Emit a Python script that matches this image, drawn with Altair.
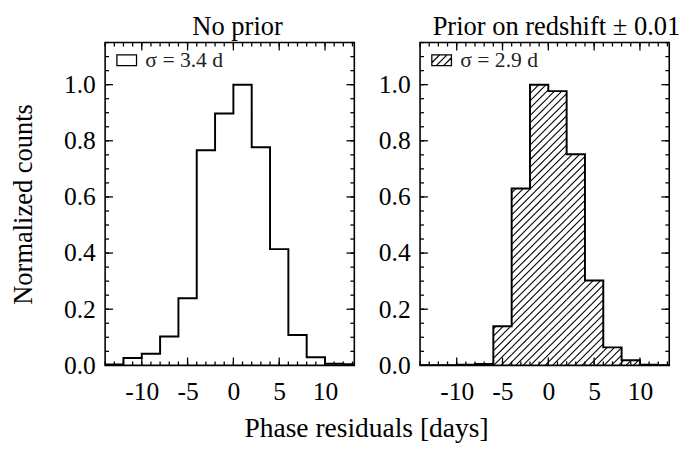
import altair as alt
import pandas as pd
import math

# ---- data ----
bin_starts = [-14, -12, -10, -8, -6, -4, -2, 0, 2, 4, 6, 8, 10, 12]
no_prior = [0.003, 0.026, 0.041, 0.103, 0.239, 0.766, 0.897, 1.0, 0.777, 0.414, 0.108, 0.029, 0.006, 0.004]
with_prior = [0.0, 0.0, 0.002, 0.005, 0.139, 0.630, 1.0, 0.977, 0.752, 0.302, 0.064, 0.018, 0.002, 0.0]
x_major = [-10, -5, 0, 5, 10]
x_minor = list(range(-14, 14))
y_major = [0.0, 0.2, 0.4, 0.6, 0.8, 1.0]
y_minor = [round(0.05 * k, 2) for k in range(0, 24)]
titles = ["No prior", "Prior on redshift \u00b1 0.01"]
legend_labels = ["\u03c3 = 3.4 d", "\u03c3 = 2.9 d"]

# ---- layout / style ----
W, H = 254, 329
XMIN, XMAX = -14, 13.2
YMIN, YMAX = 0.0, 1.15
FONT = "Liberation Serif"
HATCH = 7.5  # px spacing of hatch lines
SX = W / (XMAX - XMIN)   # px per x unit
SY = H / (YMAX - YMIN)   # px per y unit

xscale = alt.Scale(domain=[XMIN, XMAX], nice=False, zero=False)
yscale = alt.Scale(domain=[YMIN, YMAX], nice=False, zero=False)


def step_df(values, label):
    xs = bin_starts + [XMAX]
    ys = values + [values[-1]]
    return pd.DataFrame({"x": xs, "y": ys, "lab": label})


def hatch_df(values):
    rows = []
    ends = bin_starts[1:] + [XMAX]
    for x0, x1, v in zip(bin_starts, ends, values):
        a, b, h = (x0 - XMIN) * SX, (x1 - XMIN) * SX, v * SY
        if h <= 0.5:
            continue
        k0 = math.floor((a - h) / HATCH) - 1
        k1 = math.ceil(b / HATCH) + 1
        for k in range(k0, k1 + 1):
            c = k * HATCH
            lo, hi = max(a, c), min(b, c + h)
            if hi - lo > 0.2:
                rows.append({"x": XMIN + lo / SX, "y": (lo - c) / SY,
                             "x2": XMIN + hi / SX, "y2": (hi - c) / SY})
    return pd.DataFrame(rows)


def tick_df():
    # inward ticks on all four sides, as short segments (x, y) -> (x2, y2)
    rows = []
    for vals, L in [(x_minor, 4), (x_major, 8)]:
        for t in vals:
            rows.append({"x": t, "x2": t, "y": YMIN, "y2": YMIN + L / SY})
            rows.append({"x": t, "x2": t, "y": YMAX, "y2": YMAX - L / SY})
    for vals, L in [(y_minor, 4), (y_major, 8)]:
        for t in vals:
            rows.append({"x": XMIN, "x2": XMIN + L / SX, "y": t, "y2": t})
            rows.append({"x": XMAX, "x2": XMAX - L / SX, "y": t, "y2": t})
    return pd.DataFrame(rows)


BOX = "M-1,-0.55H1V0.55H-1Z"


def hatched_box():
    segs = []
    step = 0.75
    for k in range(-4, 5):
        c = k * step
        lo = max(-1.0, c - 0.55)
        hi = min(1.0, c + 0.55)
        if hi - lo > 0.05:
            segs.append("M%.3f,%.3fL%.3f,%.3f" % (lo, c - lo, hi, c - hi))
    return BOX + " " + " ".join(segs)


def make_axes(ytitle):
    xaxis = alt.Axis(values=x_major, ticks=False, domain=False, grid=False,
                     labelExpr="'' + datum.value",
                     labelFontSize=26, labelPadding=14, title=None, labelColor="black",
                     labelFont=FONT)
    yaxis = alt.Axis(values=y_major, format=".1f", ticks=False, domain=False, grid=False,
                     labelFontSize=26, labelPadding=10, labelColor="black", labelFont=FONT,
                     title=ytitle, titleFontSize=27, titleFontWeight="normal", titleFont=FONT,
                     titlePadding=27, titleColor="black")
    return xaxis, yaxis


def segs_layer(df, xaxis, yaxis, width):
    return alt.Chart(df).mark_rule(color="black", strokeWidth=width).encode(
        x=alt.X("x:Q", scale=xscale, axis=xaxis),
        y=alt.Y("y:Q", scale=yscale, axis=yaxis),
        x2="x2:Q", y2="y2:Q",
    )


def panel(values, title, label, ytitle, hatched, tdx):
    xaxis, yaxis = make_axes(ytitle)
    line = alt.Chart(step_df(values, label)).mark_line(
        interpolate="step-after", strokeWidth=2, clip=True
    ).encode(
        x=alt.X("x:Q", scale=xscale, axis=xaxis),
        y=alt.Y("y:Q", scale=yscale, axis=yaxis),
        stroke=alt.Stroke("lab:N", scale=alt.Scale(range=["black"]),
                          legend=alt.Legend(title=None, orient="none", legendX=11, legendY=7,
                                            symbolType=hatched_box() if hatched else BOX,
                                            symbolSize=400, symbolStrokeWidth=1.3,
                                            symbolFillColor="transparent", symbolStrokeColor="black",
                                            labelFontSize=22, labelOffset=8, padding=0,
                                            labelColor="#222", labelFont=FONT)),
    )
    layers = []
    if hatched:
        layers.append(segs_layer(hatch_df(values), xaxis, yaxis, 1.1))
    layers.append(line)
    layers.append(segs_layer(tick_df(), xaxis, yaxis, 1.3))
    return alt.layer(*layers).properties(
        width=W, height=H,
        title=alt.TitleParams(title, fontSize=27, fontWeight="normal", font=FONT,
                              color="black", offset=1, dx=tdx),
    )


left = panel(no_prior, titles[0], legend_labels[0], "Normalized counts", False, 8)
right = panel(with_prior, titles[1], legend_labels[1], None, True, 12)

chart = alt.hconcat(left, right, spacing=21).resolve_scale(
    stroke="independent"
).resolve_legend(stroke="independent").properties(
    padding=0,
    title=alt.TitleParams("Phase residuals [days]", orient="bottom", anchor="middle",
                          fontSize=28, fontWeight="normal", font=FONT, color="black",
                          offset=10, dx=22),
).configure(font=FONT).configure_title(font=FONT).configure_view(stroke="black", strokeWidth=1.6)

chart.save("out.html", embed_options={"renderer": "svg", "actions": False})
